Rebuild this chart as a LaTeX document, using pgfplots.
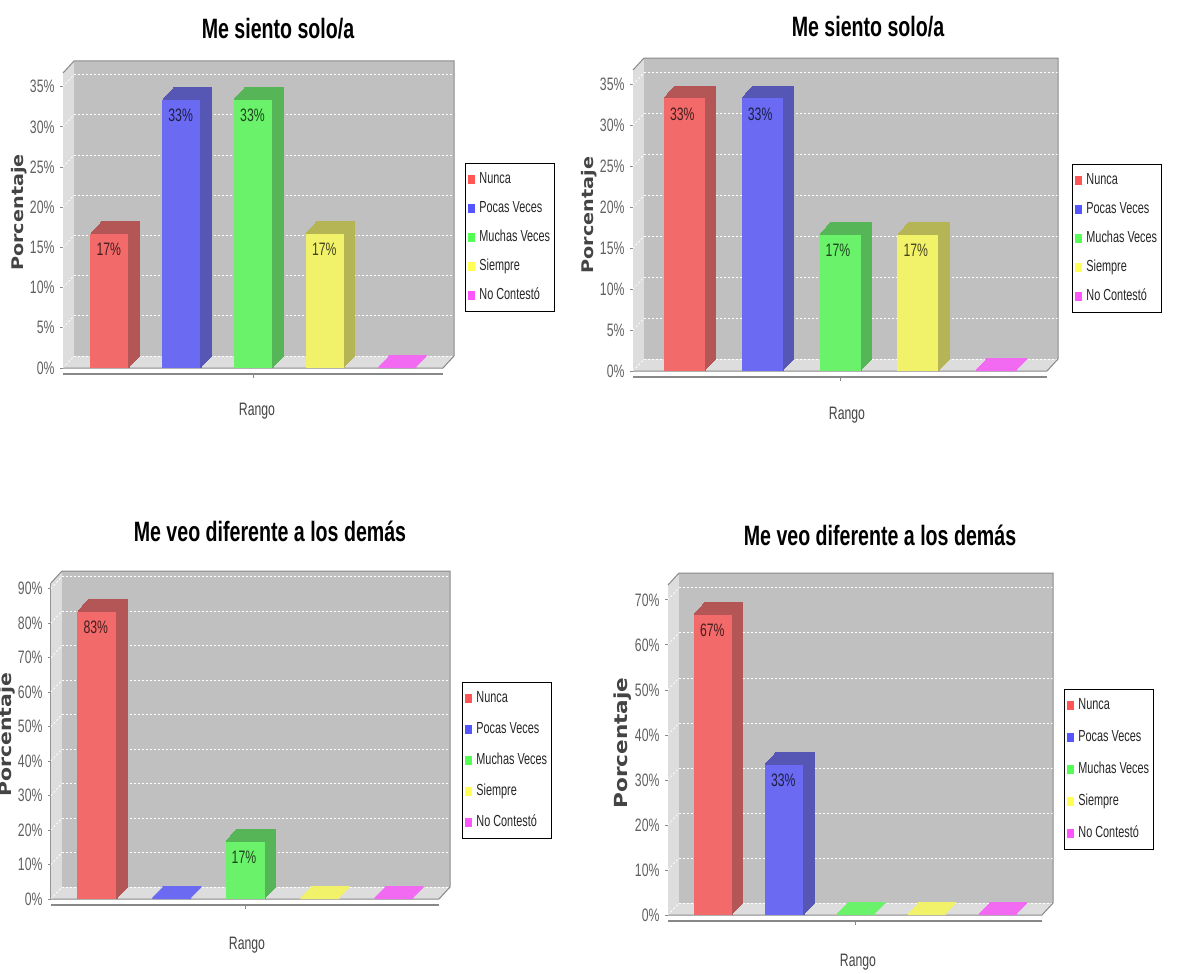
\documentclass[border=0pt]{standalone}
\usepackage{pgfplots}
\pgfplotsset{compat=1.18}
\usepackage{fontspec}
\setmainfont{Liberation Sans}[FakeStretch=0.68]
\newfontfamily\titlefont{Liberation Sans}[FakeStretch=0.70]
\newfontfamily\ylabfont{DejaVu Sans}[FakeStretch=1.2]

\definecolor{redF}{HTML}{F26A6A}\definecolor{redS}{HTML}{B55656}\definecolor{redL}{HTML}{FF5555}
\definecolor{bluF}{HTML}{6A6AF2}\definecolor{bluS}{HTML}{5656B5}\definecolor{bluL}{HTML}{5555FF}
\definecolor{grnF}{HTML}{6AF26A}\definecolor{grnS}{HTML}{56B556}\definecolor{grnL}{HTML}{55FF55}
\definecolor{yelF}{HTML}{F2F26A}\definecolor{yelS}{HTML}{B5B556}\definecolor{yelL}{HTML}{FFFF55}
\definecolor{magF}{HTML}{F26AF2}\definecolor{magS}{HTML}{B556B5}\definecolor{magL}{HTML}{FF55FF}
\definecolor{wallback}{HTML}{C0C0C0}
\definecolor{wallside}{HTML}{DDDDDD}
\definecolor{edgec}{HTML}{888888}
\definecolor{ticktext}{HTML}{606060}
\definecolor{labtext}{HTML}{444444}

\newcommand\tickfont{\fontsize{18}{20}\selectfont}
\newcommand\legfont{\fontsize{16}{18}\selectfont}
\def\dx{11pt}
\def\dy{12pt}
\def\bw{38pt}

\tikzset{
  gridl/.style={white, line width=0.8pt, dash pattern=on 2pt off 2pt},
  edge/.style={draw=edgec, line width=1pt},
}

\pgfplotsset{
  panel/.style={
    scale only axis, clip=false, anchor=south west,
    axis x line=none, axis y line*=left, ymin=0, xtick=\empty,
    y axis line style={draw=edgec, line width=1pt, -},
    ytick style={draw=edgec, line width=0.8pt},
    tick align=outside, major tick length=3pt,
    yticklabel={\pgfmathprintnumber{\tick}\%},
    yticklabel style={font=\tickfont, text=ticktext, xshift=-2pt},
    /pgf/number format/assume math mode=true,
    legend entries={Nunca,Pocas Veces,Muchas Veces,Siempre,No Contestó},
    legend cell align=left,
    legend style={draw=black, line width=0.8pt, fill=white, font=\legfont, text=black!85,
      at={(1,0.5)}, anchor=west, inner xsep=3pt, inner ysep=7pt, row sep=11pt,
      /tikz/every odd column/.append style={column sep=2.5pt},
      nodes={inner sep=1.5pt, text height=11.5pt, text depth=3.5pt, line width=0pt}},
  },
  lbl/.style={nodes near coords={\pgfmathprintnumber[fixed,precision=0]{\pgfplotspointmeta}\%},
    nodes near coords align={center},
    every node near coord/.style={anchor=north west, inner sep=0pt, font=\tickfont,
      text=black, text opacity=0.72, xshift=-0.5*\bw+6pt, yshift=-9pt}},
  nolbl/.style={},
}

% x, value, front colour, side colour, legend colour, label style
\newcommand\bartd[6]{%
  \pgfplotsinvokeforeach{1,...,11}{%
    \addplot[ybar, bar width=\bw, bar shift=0pt, fill=#4, draw=#4, line width=1.2pt, forget plot,
      xshift=##1*\dx/11, yshift=##1*\dy/11] coordinates {(#1,#2)};}%
  \addplot[ybar, bar width=\bw, bar shift=0pt, fill=#3, draw=none, #6,
    legend image code/.code={\fill[#5] (0pt,-4.5pt) rectangle (7pt,4.5pt);}]
    coordinates {(#1,#2)};
}

% xmin, xmax, ymax, grid list
\newcommand\decor[4]{%
  \fill[wallside] (axis cs:#1,0) -- ([shift={(\dx,\dy)}]axis cs:#1,0) -- ([shift={(\dx,\dy)}]axis cs:#1,#3) -- (axis cs:#1,#3) -- cycle;
  \fill[wallside] (axis cs:#1,0) -- (axis cs:#2,0) -- ([shift={(\dx,\dy)}]axis cs:#2,0) -- ([shift={(\dx,\dy)}]axis cs:#1,0) -- cycle;
  \fill[wallback] ([shift={(\dx,\dy)}]axis cs:#1,0) rectangle ([shift={(\dx,\dy)}]axis cs:#2,#3);
  \pgfplotsinvokeforeach{#4}{%
    \draw[gridl] ([shift={(\dx,\dy)}]axis cs:#1,##1) -- ([shift={(\dx,\dy)}]axis cs:#2,##1);
    \draw[gridl] (axis cs:#1,##1) -- ([shift={(\dx,\dy)}]axis cs:#1,##1);}
  \draw[edge] (axis cs:#1,#3) -- ([shift={(\dx,\dy)}]axis cs:#1,#3) -- ([shift={(\dx,\dy)}]axis cs:#2,#3)
     -- ([shift={(\dx,\dy)}]axis cs:#2,0) -- (axis cs:#2,0) -- (axis cs:#1,0);
  \draw[edge, line width=1.3pt] ([yshift=-6pt]axis cs:#1,0) -- ([yshift=-6pt]axis cs:#2,0);
  \draw[edge] ([yshift=-6pt]axis cs:2,0) -- ++(0pt,-4pt);
}

\begin{document}
\begin{tikzpicture}
\useasboundingbox (0pt,0pt) rectangle (1178pt,-974pt);

% ---------------- Panel 1 ----------------
\def\bw{38pt}
\begin{axis}[panel, at={(63pt,-368pt)}, width=380pt, height=295pt,
  xmin=-0.646, xmax=4.646, ymax=36.7, ytick={0,5,...,35},
  legend style={xshift=22pt, yshift=-17pt}]
\decor{-0.646}{4.646}{36.7}{0,5,...,35}
\bartd{0}{16.67}{redF}{redS}{redL}{lbl}
\bartd{1}{33.33}{bluF}{bluS}{bluL}{lbl}
\bartd{2}{33.33}{grnF}{grnS}{grnL}{lbl}
\bartd{3}{16.67}{yelF}{yelS}{yelL}{lbl}
\bartd{4}{0}{magF}{magF}{magL}{nolbl}
\end{axis}

% ---------------- Panel 2 ----------------
\def\bw{41pt}
\begin{axis}[panel, at={(633pt,-371pt)}, width=414pt, height=301pt,
  xmin=-0.66, xmax=4.66, ymax=36.8, ytick={0,5,...,35},
  legend style={xshift=25pt, yshift=-17.5pt}]
\decor{-0.66}{4.66}{36.8}{0,5,...,35}
\bartd{0}{33.33}{redF}{redS}{redL}{lbl}
\bartd{1}{33.33}{bluF}{bluS}{bluL}{lbl}
\bartd{2}{16.67}{grnF}{grnS}{grnL}{lbl}
\bartd{3}{16.67}{yelF}{yelS}{yelL}{lbl}
\bartd{4}{0}{magF}{magF}{magL}{nolbl}
\end{axis}

% ---------------- Panel 3 ----------------
\def\bw{39pt}
\begin{axis}[panel, at={(51pt,-899pt)}, width=388pt, height=316pt,
  xmin=-0.62, xmax=4.62, ymax=91.6, ytick={0,10,...,90},
  legend style={xshift=23pt, yshift=-19pt, row sep=13pt}]
\decor{-0.62}{4.62}{91.6}{0,10,...,90}
\bartd{0}{83.33}{redF}{redS}{redL}{lbl}
\bartd{1}{0}{bluF}{bluF}{bluL}{nolbl}
\bartd{2}{16.67}{grnF}{grnS}{grnL}{lbl}
\bartd{3}{0}{yelF}{yelF}{yelL}{nolbl}
\bartd{4}{0}{magF}{magF}{magL}{nolbl}
\end{axis}

% ---------------- Panel 4 ----------------
\def\bw{38pt}
\begin{axis}[panel, at={(668pt,-915pt)}, width=374pt, height=330pt,
  xmin=-0.63, xmax=4.63, ymax=73.3, ytick={0,10,...,70},
  legend style={xshift=22pt, yshift=-19pt, row sep=14pt}]
\decor{-0.63}{4.63}{73.3}{0,10,...,70}
\bartd{0}{66.67}{redF}{redS}{redL}{lbl}
\bartd{1}{33.33}{bluF}{bluS}{bluL}{lbl}
\bartd{2}{0}{grnF}{grnF}{grnL}{nolbl}
\bartd{3}{0}{yelF}{yelF}{yelL}{nolbl}
\bartd{4}{0}{magF}{magF}{magL}{nolbl}
\end{axis}

% ---------------- Texts ----------------
\tikzset{ttl/.style={font=\titlefont\bfseries\fontsize{28}{30}\selectfont, anchor=base, inner sep=0pt},
  rng/.style={font=\fontsize{18}{20}\selectfont, text=labtext, anchor=base, inner sep=0pt},
  pct/.style={font=\ylabfont\bfseries\fontsize{16}{18}\selectfont, text=labtext, rotate=90, inner sep=0pt}}
\node[ttl] at (278pt,-38.3pt) {Me siento solo/a};
\node[ttl] at (868pt,-37pt) {Me siento solo/a};
\node[ttl] at (270pt,-541.7pt) {Me veo diferente a los demás};
\node[ttl] at (880pt,-545pt) {Me veo diferente a los demás};
\node[rng] at (257pt,-415pt) {Rango};
\node[rng] at (847pt,-419pt) {Rango};
\node[rng] at (247pt,-949pt) {Rango};
\node[rng] at (858pt,-966pt) {Rango};
\node[pct] at (19pt,-212.5pt) {Porcentaje};
\node[pct] at (589pt,-215pt) {Porcentaje};
\node[pct, font=\ylabfont\bfseries\fontsize{17}{19}\selectfont] at (7pt,-735pt) {Porcentaje};
\node[pct, font=\ylabfont\bfseries\fontsize{18}{20}\selectfont] at (623pt,-743pt) {Porcentaje};
\end{tikzpicture}
\end{document}
